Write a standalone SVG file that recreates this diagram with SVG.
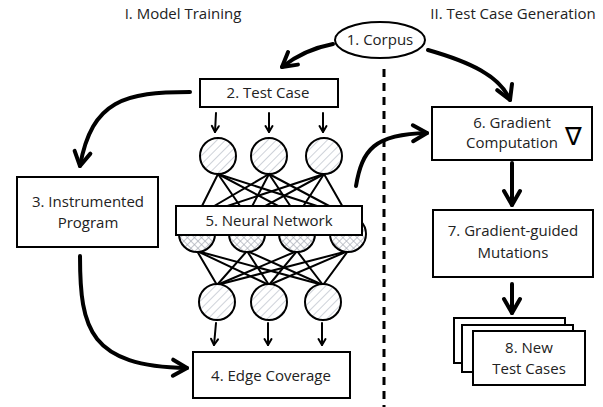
<svg xmlns="http://www.w3.org/2000/svg" width="603" height="407" viewBox="0 0 603 407">
<style>
  text { font-family: "Open Sans", "Noto Sans", "Liberation Sans", sans-serif; font-size: 15px; fill: #222; text-anchor: middle; }
  .box { fill: #fff; stroke: #000; stroke-width: 2; }
  .thick { fill: none; stroke: #000; stroke-width: 4; stroke-linecap: round; }
  .thin { fill: none; stroke: #000; stroke-width: 2; stroke-linecap: round; }
  .edge { stroke: #000; stroke-width: 2; stroke-linecap: round; }
  .neuron { stroke: #000; stroke-width: 2; }
</style>
<defs>
  <pattern id="hatch" patternUnits="userSpaceOnUse" width="6" height="6" patternTransform="rotate(45)">
    <rect width="6" height="6" fill="#fff"/>
    <line x1="0" y1="0" x2="0" y2="6" stroke="#c9cdd5" stroke-width="1.8"/>
  </pattern>
  <pattern id="cross" patternUnits="userSpaceOnUse" width="5" height="5" patternTransform="rotate(45)">
    <rect width="5" height="5" fill="#fff"/>
    <line x1="0" y1="0" x2="0" y2="5" stroke="#a8adb6" stroke-width="1.4"/>
    <line x1="0" y1="0" x2="5" y2="0" stroke="#a8adb6" stroke-width="1.4"/>
  </pattern>
  <marker id="big" markerUnits="userSpaceOnUse" markerWidth="22" markerHeight="22" refX="15" refY="9" orient="auto" overflow="visible">
    <path d="M1,1 L15,9 L1,17" fill="none" stroke="#000" stroke-width="4" stroke-linecap="round" stroke-linejoin="round"/>
  </marker>
  <marker id="small" markerUnits="userSpaceOnUse" markerWidth="10" markerHeight="10" refX="7" refY="4" orient="auto" overflow="visible">
    <path d="M1,0.5 L7,4 L1,7.5" fill="none" stroke="#000" stroke-width="2" stroke-linecap="round" stroke-linejoin="round"/>
  </marker>
</defs>

<text x="183" y="19">I. Model Training</text>
<text x="513" y="19">II. Test Case Generation</text>

<line x1="384" y1="69" x2="384" y2="407" stroke="#000" stroke-width="3" stroke-dasharray="8,6"/>

<g id="connectors">
  <path class="thick" d="M333,44 C312,48 296,56 282,67" marker-end="url(#big)"/>
  <path class="thick" d="M428,50 C470,62 500,76 510,100" marker-end="url(#big)"/>
  <path class="thick" d="M190,92 C125,92 92,100 80,166" marker-end="url(#big)"/>
  <path class="thick" d="M80,256 C80,330 90,366 187,368" marker-end="url(#big)"/>
  <path class="thick" d="M356,186 C362,150 374,134 427,133" marker-end="url(#big)"/>
  <path class="thick" d="M512,163 L512,205" marker-end="url(#big)"/>
  <path class="thick" d="M512,284 L512,313" marker-end="url(#big)"/>
  <path class="thin" d="M216,113 L215,132" marker-end="url(#small)"/>
  <path class="thin" d="M269,113 L269,132" marker-end="url(#small)"/>
  <path class="thin" d="M323,113 L323,132" marker-end="url(#small)"/>
  <path class="thin" d="M216,323 L214,345" marker-end="url(#small)"/>
  <path class="thin" d="M268,323 L268,345" marker-end="url(#small)"/>
  <path class="thin" d="M322,323 L322,345" marker-end="url(#small)"/>
  <g id="nn-edges">
    <line class="edge" x1="218" y1="174" x2="197" y2="216"/>
    <line class="edge" x1="218" y1="174" x2="247" y2="216"/>
    <line class="edge" x1="218" y1="174" x2="297" y2="216"/>
    <line class="edge" x1="218" y1="174" x2="348" y2="216"/>
    <line class="edge" x1="269" y1="174" x2="197" y2="216"/>
    <line class="edge" x1="269" y1="174" x2="247" y2="216"/>
    <line class="edge" x1="269" y1="174" x2="297" y2="216"/>
    <line class="edge" x1="269" y1="174" x2="348" y2="216"/>
    <line class="edge" x1="324" y1="174" x2="197" y2="216"/>
    <line class="edge" x1="324" y1="174" x2="247" y2="216"/>
    <line class="edge" x1="324" y1="174" x2="297" y2="216"/>
    <line class="edge" x1="324" y1="174" x2="348" y2="216"/>
    <line class="edge" x1="197" y1="251" x2="217" y2="285"/>
    <line class="edge" x1="197" y1="251" x2="269" y2="285"/>
    <line class="edge" x1="197" y1="251" x2="323" y2="285"/>
    <line class="edge" x1="247" y1="251" x2="217" y2="285"/>
    <line class="edge" x1="247" y1="251" x2="269" y2="285"/>
    <line class="edge" x1="247" y1="251" x2="323" y2="285"/>
    <line class="edge" x1="297" y1="251" x2="217" y2="285"/>
    <line class="edge" x1="297" y1="251" x2="269" y2="285"/>
    <line class="edge" x1="297" y1="251" x2="323" y2="285"/>
    <line class="edge" x1="348" y1="251" x2="217" y2="285"/>
    <line class="edge" x1="348" y1="251" x2="269" y2="285"/>
    <line class="edge" x1="348" y1="251" x2="323" y2="285"/>
  </g>
</g>

<g id="corpus">
  <ellipse cx="380" cy="40" rx="45" ry="18" fill="#fff" stroke="#000" stroke-width="2"/>
  <text x="380" y="45">1. Corpus</text>
</g>

<g id="test-case">
  <rect class="box" x="200" y="79" width="138" height="28"/>
  <text x="268" y="98">2. Test Case</text>
</g>

<g id="neurons-in">
  <circle class="neuron" cx="218" cy="156" r="18" fill="url(#hatch)"/>
  <circle class="neuron" cx="269" cy="156" r="18" fill="url(#hatch)"/>
  <circle class="neuron" cx="324" cy="156" r="18" fill="url(#hatch)"/>
</g>

<g id="neurons-hidden">
  <circle class="neuron" cx="197" cy="234" r="18" fill="url(#cross)"/>
  <circle class="neuron" cx="247" cy="234" r="18" fill="url(#cross)"/>
  <circle class="neuron" cx="297" cy="234" r="18" fill="url(#cross)"/>
  <circle class="neuron" cx="348" cy="234" r="18" fill="url(#cross)"/>
</g>

<g id="neural-network">
  <rect class="box" x="176" y="206" width="186" height="29"/>
  <text x="269" y="226">5. Neural Network</text>
</g>

<g id="neurons-out">
  <circle class="neuron" cx="217" cy="302" r="18" fill="url(#hatch)"/>
  <circle class="neuron" cx="269" cy="302" r="18" fill="url(#hatch)"/>
  <circle class="neuron" cx="323" cy="302" r="18" fill="url(#hatch)"/>
</g>

<g id="instrumented-program">
  <rect class="box" x="17" y="177" width="141" height="70"/>
  <text x="88" y="207">3. Instrumented</text>
  <text x="88" y="228">Program</text>
</g>

<g id="edge-coverage">
  <rect class="box" x="193" y="352" width="157" height="46"/>
  <text x="271" y="381">4. Edge Coverage</text>
</g>

<g id="gradient-computation">
  <rect class="box" x="432" y="107" width="160" height="53"/>
  <text x="512" y="128">6. Gradient</text>
  <text x="512" y="148">Computation</text>
  <text x="573" y="145" style="font-size:25px; fill:#000">∇</text>
</g>

<g id="gradient-mutations">
  <rect class="box" x="433" y="210" width="160" height="67"/>
  <text x="513" y="236">7. Gradient-guided</text>
  <text x="513" y="258">Mutations</text>
</g>

<g id="new-test-cases">
  <rect class="box" x="454" y="318" width="111" height="45"/>
  <rect class="box" x="462" y="325" width="111" height="47"/>
  <rect class="box" x="473" y="331" width="112" height="54"/>
  <text x="529" y="353">8. New</text>
  <text x="529" y="374">Test Cases</text>
</g>
</svg>
